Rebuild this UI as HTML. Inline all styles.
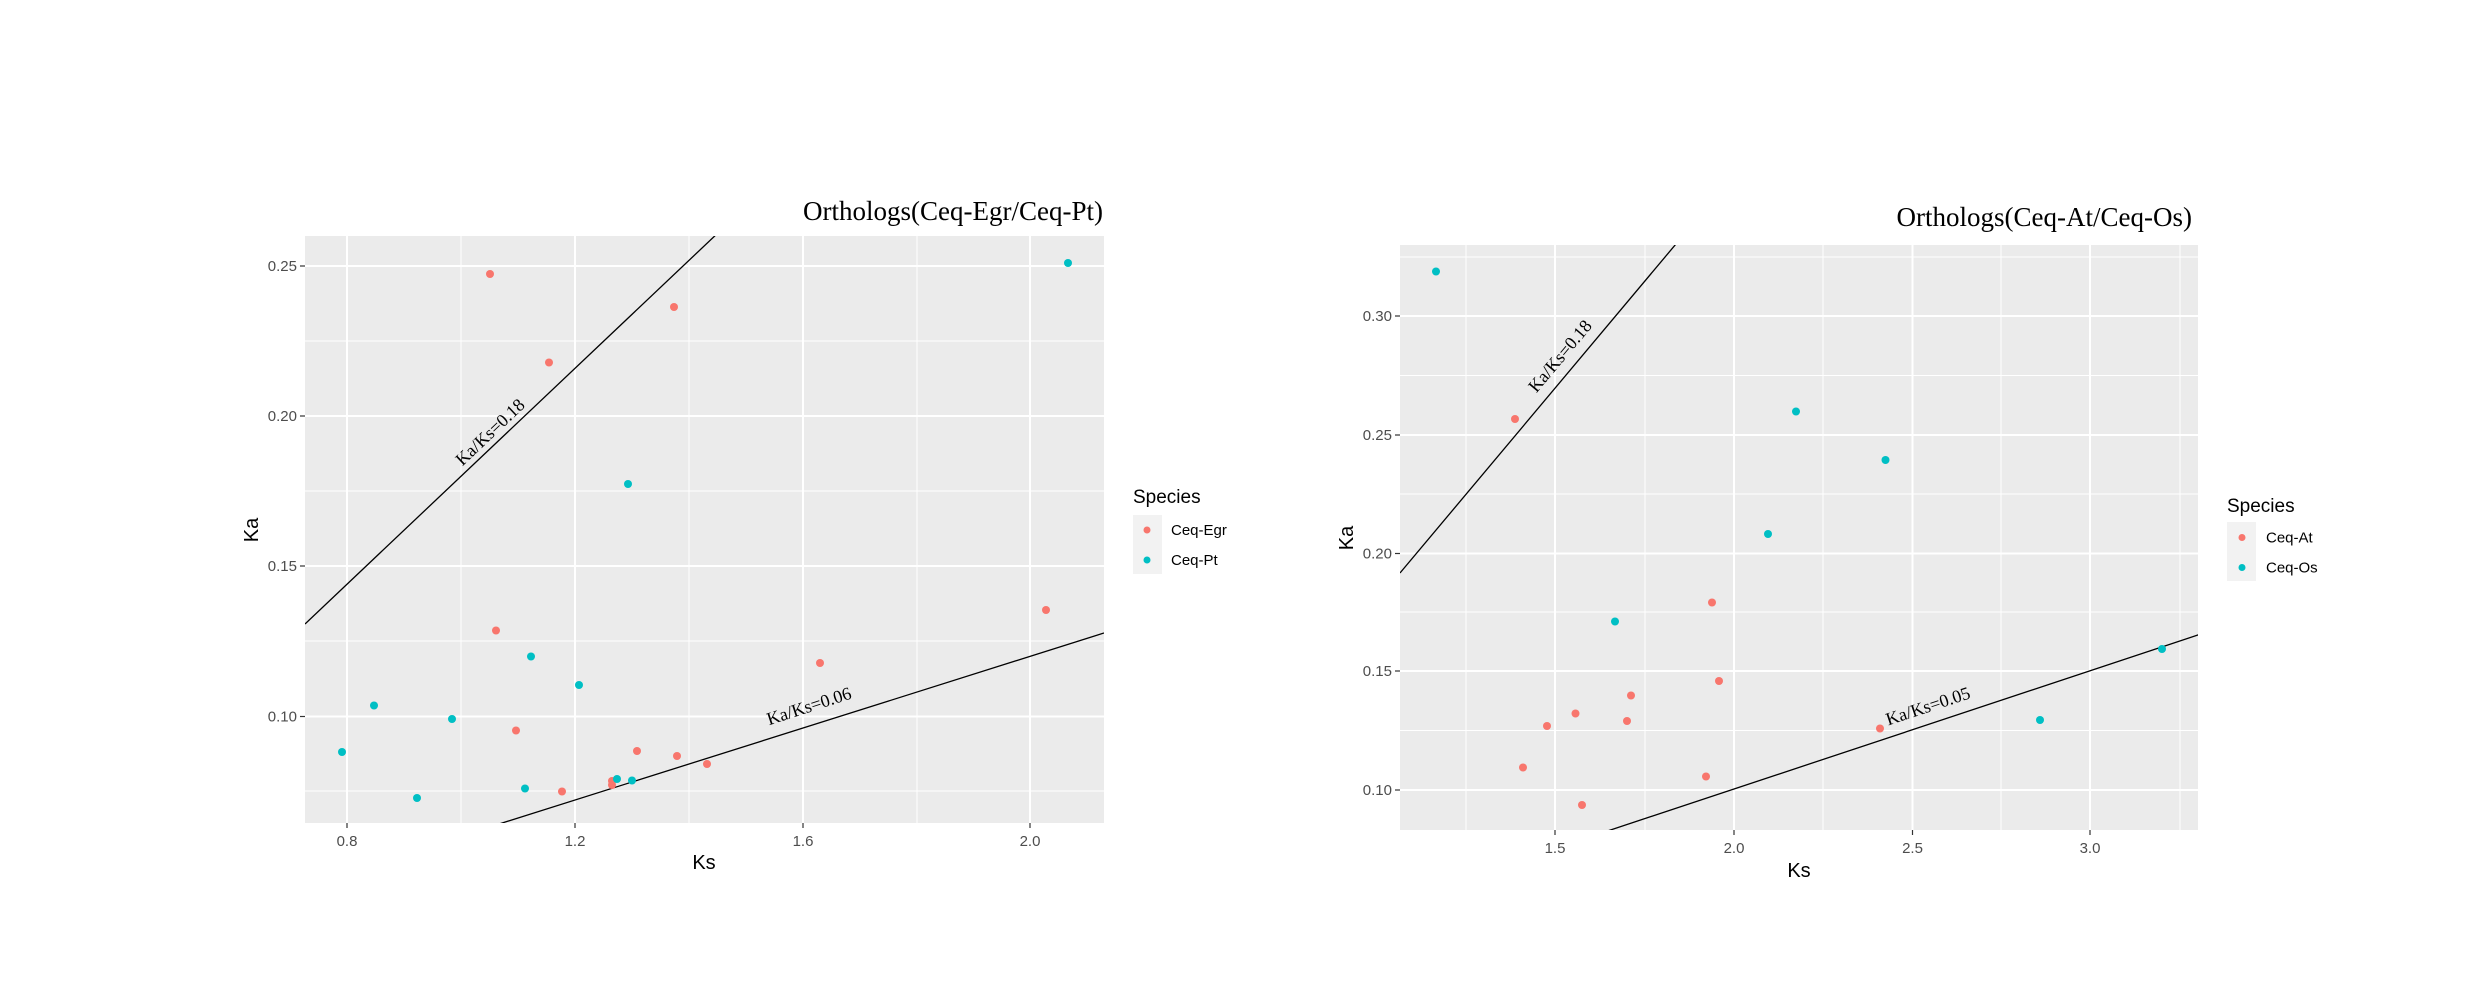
<!DOCTYPE html>
<html><head><meta charset="utf-8"><style>
html,body{margin:0;padding:0;background:#fff;}
svg{display:block;}
.tk{font-family:"Liberation Sans",Arial,sans-serif;font-size:15px;fill:#4D4D4D;}
.at{font-family:"Liberation Sans",Arial,sans-serif;font-size:20px;fill:#000;}
.lg{font-family:"Liberation Sans",Arial,sans-serif;font-size:15px;fill:#000;}
.lt{font-family:"Liberation Sans",Arial,sans-serif;font-size:19px;fill:#000;}
.ti{font-family:"Liberation Serif","Times New Roman",serif;font-size:27px;fill:#000;}
.an{font-family:"Liberation Serif","Times New Roman",serif;font-size:18px;fill:#000;}
</style></head><body>
<svg width="2480" height="1002" viewBox="0 0 2480 1002" xmlns="http://www.w3.org/2000/svg">
<defs>
<clipPath id="c1"><rect x="305" y="236" width="799" height="587"/></clipPath>
<clipPath id="c2"><rect x="1400" y="245" width="798" height="585"/></clipPath>
</defs>
<!-- LEFT PANEL -->
<rect x="305" y="236" width="799" height="587" fill="#EBEBEB"/>
<g stroke="#fff" stroke-width="1">
<line x1="461" y1="236" x2="461" y2="823"/><line x1="689" y1="236" x2="689" y2="823"/><line x1="917" y1="236" x2="917" y2="823"/>
<line x1="305" y1="341" x2="1104" y2="341"/><line x1="305" y1="491" x2="1104" y2="491"/><line x1="305" y1="641" x2="1104" y2="641"/><line x1="305" y1="791" x2="1104" y2="791"/>
</g>
<g stroke="#fff" stroke-width="2">
<line x1="347" y1="236" x2="347" y2="823"/><line x1="575" y1="236" x2="575" y2="823"/><line x1="803" y1="236" x2="803" y2="823"/><line x1="1030" y1="236" x2="1030" y2="823"/>
<line x1="305" y1="266" x2="1104" y2="266"/><line x1="305" y1="416" x2="1104" y2="416"/><line x1="305" y1="566" x2="1104" y2="566"/><line x1="305" y1="716.5" x2="1104" y2="716.5"/>
</g>
<g stroke="#333" stroke-width="1.2">
<line x1="300" y1="266" x2="305" y2="266"/><line x1="300" y1="416" x2="305" y2="416"/><line x1="300" y1="566" x2="305" y2="566"/><line x1="300" y1="716.5" x2="305" y2="716.5"/>
<line x1="347" y1="823" x2="347" y2="828"/><line x1="575" y1="823" x2="575" y2="828"/><line x1="803" y1="823" x2="803" y2="828"/><line x1="1030" y1="823" x2="1030" y2="828"/>
</g>
<g clip-path="url(#c1)" stroke="#000" stroke-width="1.3">
<line x1="305" y1="624" x2="720" y2="231"/>
<line x1="480" y1="830" x2="1104" y2="633"/>
</g>
<text class="an" transform="translate(490,432) rotate(-43.5)" text-anchor="middle" dominant-baseline="central">Ka/Ks=0.18</text>
<text class="an" transform="translate(809,706) rotate(-18)" text-anchor="middle" dominant-baseline="central">Ka/Ks=0.06</text>
<g fill="#F8766D">
<circle cx="490" cy="274" r="4"/><circle cx="674" cy="307" r="4"/><circle cx="549" cy="362.5" r="4"/><circle cx="496" cy="630.5" r="4"/><circle cx="516" cy="730.5" r="4"/><circle cx="562" cy="791.5" r="4"/><circle cx="612" cy="781" r="4"/><circle cx="612" cy="785" r="4"/><circle cx="637" cy="751" r="4"/><circle cx="677" cy="756" r="4"/><circle cx="707" cy="764" r="4"/><circle cx="820" cy="663" r="4"/><circle cx="1046" cy="610" r="4"/>
</g>
<g fill="#00BFC4">
<circle cx="1068" cy="263" r="4"/><circle cx="628" cy="484" r="4"/><circle cx="531" cy="656.5" r="4"/><circle cx="579" cy="685" r="4"/><circle cx="374" cy="705.5" r="4"/><circle cx="452" cy="719" r="4"/><circle cx="342" cy="752" r="4"/><circle cx="417" cy="798" r="4"/><circle cx="525" cy="788.5" r="4"/><circle cx="617" cy="779" r="4"/><circle cx="632" cy="780.5" r="4"/>
</g>
<g class="tk" text-anchor="end">
<text x="297" y="271">0.25</text><text x="297" y="421">0.20</text><text x="297" y="571">0.15</text><text x="297" y="721.5">0.10</text>
</g>
<g class="tk" text-anchor="middle">
<text x="347" y="846">0.8</text><text x="575" y="846">1.2</text><text x="803" y="846">1.6</text><text x="1030" y="846">2.0</text>
</g>
<text class="at" x="704" y="869" text-anchor="middle">Ks</text>
<text class="at" transform="translate(258,530) rotate(-90)" text-anchor="middle">Ka</text>
<text class="ti" x="1103" y="220" text-anchor="end">Orthologs(Ceq-Egr/Ceq-Pt)</text>
<text class="lt" x="1133" y="503">Species</text>
<rect x="1133" y="515" width="29" height="59" fill="#F2F2F2"/>
<circle cx="1147" cy="530" r="3.5" fill="#F8766D"/><circle cx="1147" cy="560" r="3.5" fill="#00BFC4"/>
<text class="lg" x="1171" y="535">Ceq-Egr</text><text class="lg" x="1171" y="565">Ceq-Pt</text>

<!-- RIGHT PANEL -->
<rect x="1400" y="245" width="798" height="585" fill="#EBEBEB"/>
<g stroke="#fff" stroke-width="1">
<line x1="1466" y1="245" x2="1466" y2="830"/><line x1="1645" y1="245" x2="1645" y2="830"/><line x1="1823" y1="245" x2="1823" y2="830"/><line x1="2001" y1="245" x2="2001" y2="830"/><line x1="2180" y1="245" x2="2180" y2="830"/>
<line x1="1400" y1="257" x2="2198" y2="257"/><line x1="1400" y1="375.5" x2="2198" y2="375.5"/><line x1="1400" y1="494" x2="2198" y2="494"/><line x1="1400" y1="612" x2="2198" y2="612"/><line x1="1400" y1="730.5" x2="2198" y2="730.5"/>
</g>
<g stroke="#fff" stroke-width="2">
<line x1="1555" y1="245" x2="1555" y2="830"/><line x1="1734" y1="245" x2="1734" y2="830"/><line x1="1912.5" y1="245" x2="1912.5" y2="830"/><line x1="2090" y1="245" x2="2090" y2="830"/>
<line x1="1400" y1="316" x2="2198" y2="316"/><line x1="1400" y1="435" x2="2198" y2="435"/><line x1="1400" y1="553.5" x2="2198" y2="553.5"/><line x1="1400" y1="671" x2="2198" y2="671"/><line x1="1400" y1="790" x2="2198" y2="790"/>
</g>
<g stroke="#333" stroke-width="1.2">
<line x1="1395" y1="316" x2="1400" y2="316"/><line x1="1395" y1="435" x2="1400" y2="435"/><line x1="1395" y1="553.5" x2="1400" y2="553.5"/><line x1="1395" y1="671" x2="1400" y2="671"/><line x1="1395" y1="790" x2="1400" y2="790"/>
<line x1="1555" y1="830" x2="1555" y2="835"/><line x1="1734" y1="830" x2="1734" y2="835"/><line x1="1912.5" y1="830" x2="1912.5" y2="835"/><line x1="2090" y1="830" x2="2090" y2="835"/>
</g>
<g clip-path="url(#c2)" stroke="#000" stroke-width="1.3">
<line x1="1400" y1="573" x2="1681" y2="238"/>
<line x1="1590" y1="836.8" x2="2200" y2="634.3"/>
</g>
<text class="an" transform="translate(1560,356) rotate(-50)" text-anchor="middle" dominant-baseline="central">Ka/Ks=0.18</text>
<text class="an" transform="translate(1928,706) rotate(-18.4)" text-anchor="middle" dominant-baseline="central">Ka/Ks=0.05</text>
<g fill="#F8766D">
<circle cx="1515" cy="419" r="4"/><circle cx="1712" cy="602.5" r="4"/><circle cx="1719" cy="681" r="4"/><circle cx="1631" cy="695.5" r="4"/><circle cx="1627" cy="721" r="4"/><circle cx="1575.5" cy="713.5" r="4"/><circle cx="1547" cy="726" r="4"/><circle cx="1523" cy="767.5" r="4"/><circle cx="1582" cy="805" r="4"/><circle cx="1706" cy="776.5" r="4"/><circle cx="1880" cy="728.5" r="4"/>
</g>
<g fill="#00BFC4">
<circle cx="1436" cy="271.5" r="4"/><circle cx="1796" cy="411.5" r="4"/><circle cx="1885.5" cy="460" r="4"/><circle cx="1768" cy="534" r="4"/><circle cx="1615" cy="621.5" r="4"/><circle cx="2040" cy="720" r="4"/><circle cx="2162" cy="649" r="4"/>
</g>
<g class="tk" text-anchor="end">
<text x="1392" y="321">0.30</text><text x="1392" y="440">0.25</text><text x="1392" y="558.5">0.20</text><text x="1392" y="676">0.15</text><text x="1392" y="795">0.10</text>
</g>
<g class="tk" text-anchor="middle">
<text x="1555" y="853">1.5</text><text x="1734" y="853">2.0</text><text x="1912.5" y="853">2.5</text><text x="2090" y="853">3.0</text>
</g>
<text class="at" x="1799" y="877" text-anchor="middle">Ks</text>
<text class="at" transform="translate(1353,538) rotate(-90)" text-anchor="middle">Ka</text>
<text class="ti" x="2192" y="226" text-anchor="end">Orthologs(Ceq-At/Ceq-Os)</text>
<text class="lt" x="2227" y="512">Species</text>
<rect x="2227" y="522" width="29" height="59" fill="#F2F2F2"/>
<circle cx="2242" cy="537.5" r="3.5" fill="#F8766D"/><circle cx="2242" cy="567.5" r="3.5" fill="#00BFC4"/>
<text class="lg" x="2266" y="542.5">Ceq-At</text><text class="lg" x="2266" y="572.5">Ceq-Os</text>
</svg>
</body></html>
